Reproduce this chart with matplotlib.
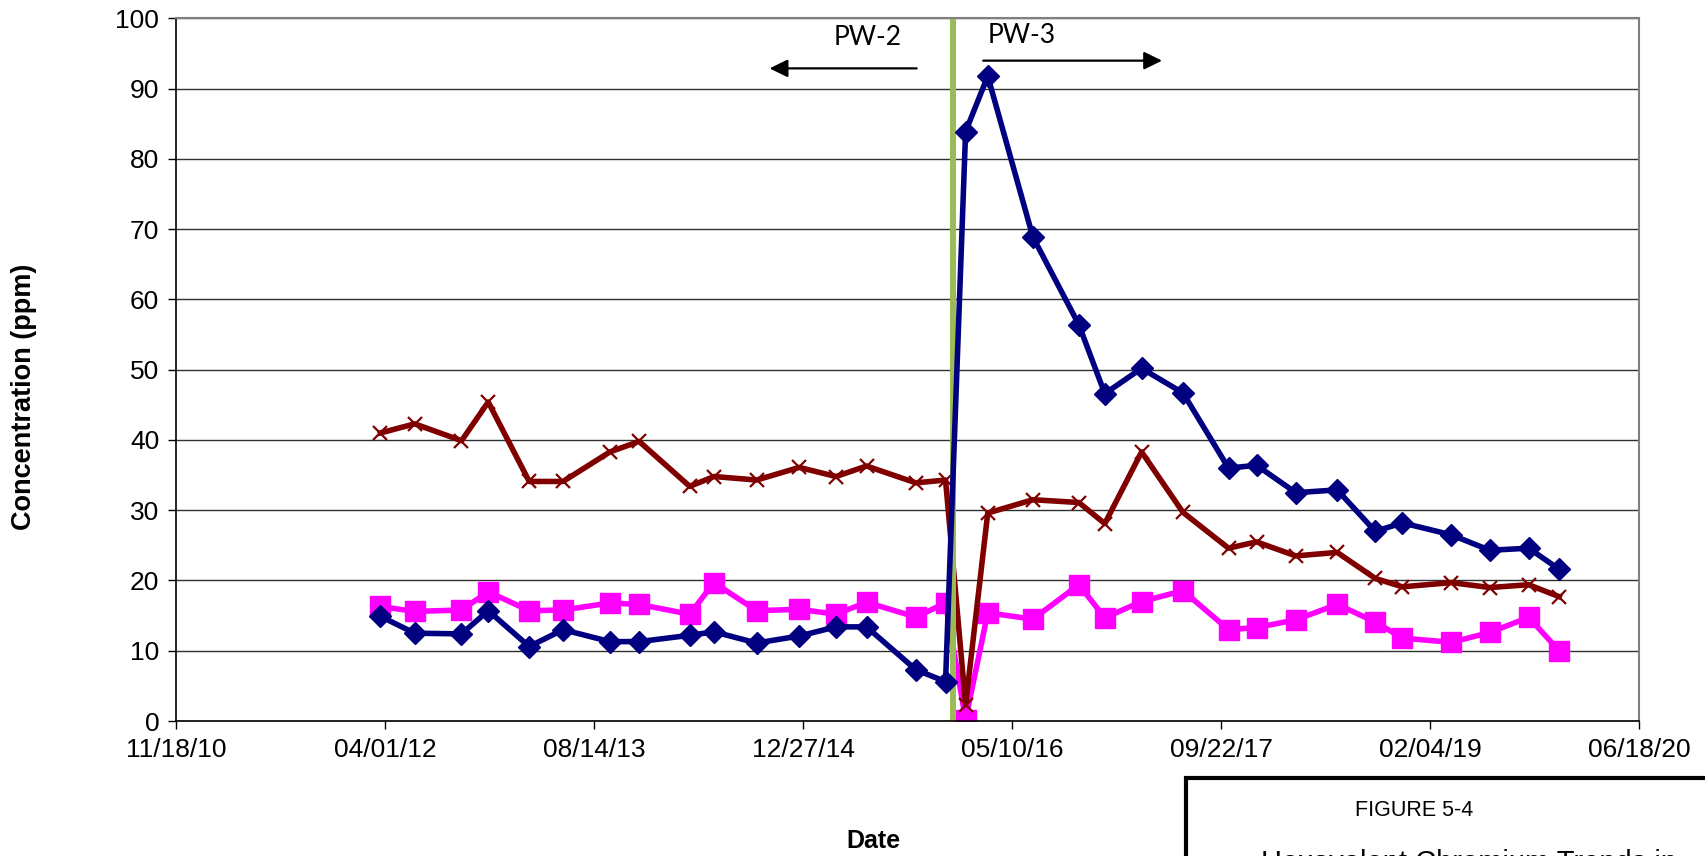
import matplotlib.pyplot as plt
import matplotlib.dates as mdates
import numpy as np
from matplotlib.patches import Rectangle

# sample dates and concentrations (ppm)
dates = ["2012-03-21", "2012-06-11", "2012-10-01", "2012-12-04", "2013-03-12",
         "2013-06-01", "2013-09-21", "2013-11-30", "2014-03-31", "2014-05-28",
         "2014-09-07", "2014-12-18", "2015-03-16", "2015-05-28", "2015-09-23",
         "2015-12-03", "2016-01-20", "2016-03-13", "2016-06-29", "2016-10-17",
         "2016-12-18", "2017-03-16", "2017-06-23", "2017-10-10", "2017-12-16",
         "2018-03-20", "2018-06-27", "2018-09-26", "2018-11-30", "2019-03-27",
         "2019-06-27", "2019-09-28", "2019-12-10"]

blue_vals = [14.9, 12.5, 12.4, 15.7, 10.6, 13.0, 11.3, 11.3, 12.2, 12.7,
             11.1, 12.1, 13.4, 13.4, 7.3, 5.6, 83.9, 91.8, 68.9, 56.4,
             46.6, 50.2, 46.7, 36.0, 36.4, 32.5, 32.9, 27.0, 28.2, 26.5,
             24.3, 24.6, 21.6]
brown_vals = [41.0, 42.3, 39.9, 45.4, 34.1, 34.1, 38.3, 39.8, 33.4, 34.8,
              34.3, 36.1, 34.8, 36.3, 33.9, 34.3, 2.3, 29.6, 31.5, 31.1,
              28.1, 38.3, 29.7, 24.6, 25.5, 23.5, 24.0, 20.3, 19.1, 19.7,
              19.0, 19.4, 17.7]
pink_vals = [16.3, 15.6, 15.8, 18.4, 15.7, 15.8, 16.8, 16.6, 15.2, 19.7,
             15.7, 15.9, 15.2, 16.9, 14.8, 16.8, 0.2, 15.4, 14.5, 19.4,
             14.7, 17.0, 18.55, 13.0, 13.3, 14.4, 16.6, 14.1, 11.8, 11.2,
             12.6, 14.75, 10.0]

switch_date = "2015-12-20"   # PW-2 -> PW-3 changeover
x_start, x_end = "2010-11-18", "2020-06-18"

x = mdates.datestr2num(dates)
x0, x1 = mdates.datestr2num(x_start), mdates.datestr2num(x_end)
xsw = mdates.datestr2num(switch_date)

plt.rcParams['font.family'] = ['Liberation Sans', 'DejaVu Sans']

fig = plt.figure(figsize=(17.05, 8.56), dpi=100)
ax = fig.add_axes([0.10323, 0.15771, 0.85806, 0.82068])

ax.plot(x, pink_vals, color='#FF00FF', lw=4, marker='s', ms=14, zorder=2)
ax.plot(x, brown_vals, color='#800000', lw=4, marker='x', ms=10, mew=1.6, zorder=2.2)
ax.axvline(xsw, color='#9BBB59', lw=4.3, zorder=2.5)
ax.plot(x, blue_vals, color='#000080', lw=4, marker='D', ms=11, zorder=3)

ax.set_xlim(x0, x1)
ax.set_ylim(0, 100)
ax.set_yticks(np.arange(0, 101, 10))
ax.set_xticks(np.arange(x0, x1 + 1, 500))
ax.xaxis.set_major_formatter(mdates.DateFormatter('%m/%d/%y'))
ax.tick_params(labelsize=19, length=6, width=1, direction='out', pad=6)

ax.grid(axis='y', color='#303030', lw=1)
for s in ['left', 'bottom']:
    ax.spines[s].set_color('black')
    ax.spines[s].set_linewidth(1.2)
for s in ['top', 'right']:
    ax.spines[s].set_color('#808080')
    ax.spines[s].set_linewidth(1.5)

# PW-2 / PW-3 annotations
ax.text(mdates.datestr2num("2015-05-31"), 97.3, "PW-2", fontsize=19,
        family=['Lato', 'DejaVu Sans'], ha='center', va='center')
ax.text(mdates.datestr2num("2016-06-03"), 97.6, "PW-3", fontsize=19,
        family=['Lato', 'DejaVu Sans'], ha='center', va='center')
arrow = dict(arrowstyle='-|>,head_length=0.55,head_width=0.27', color='black',
             lw=1.6, mutation_scale=20, shrinkA=0, shrinkB=0)
ax.annotate('', xy=(mdates.datestr2num("2014-10-08"), 92.9),
            xytext=(mdates.datestr2num("2015-09-25"), 92.9), arrowprops=arrow)
ax.annotate('', xy=(mdates.datestr2num("2017-05-04"), 94.0),
            xytext=(mdates.datestr2num("2016-03-02"), 94.0), arrowprops=arrow)

fig.text(24 / 1705, 1 - 397 / 856, "Concentration (ppm)", rotation=90,
         fontsize=19.5, fontweight='bold', ha='center', va='center')
fig.text(873 / 1705, 1 - 841 / 856, "Date", fontsize=18, fontweight='bold',
         ha='center', va='center')

# figure caption box (cut off by the page edge)
fig.patches.append(Rectangle((1186 / 1705, -0.1), 0.4, 1 - 778 / 856 + 0.1,
                             transform=fig.transFigure, fill=False,
                             edgecolor='black', lw=3))
fig.text(1414 / 1705, 1 - 810 / 856, "FIGURE 5-4", fontsize=15.5,
         ha='center', va='center')
fig.text(1261 / 1705, 1 - 849 / 856, "Hexavalent Chromium Trends in",
         fontsize=21, ha='left', va='top')

fig.savefig("out.png", dpi=100)
